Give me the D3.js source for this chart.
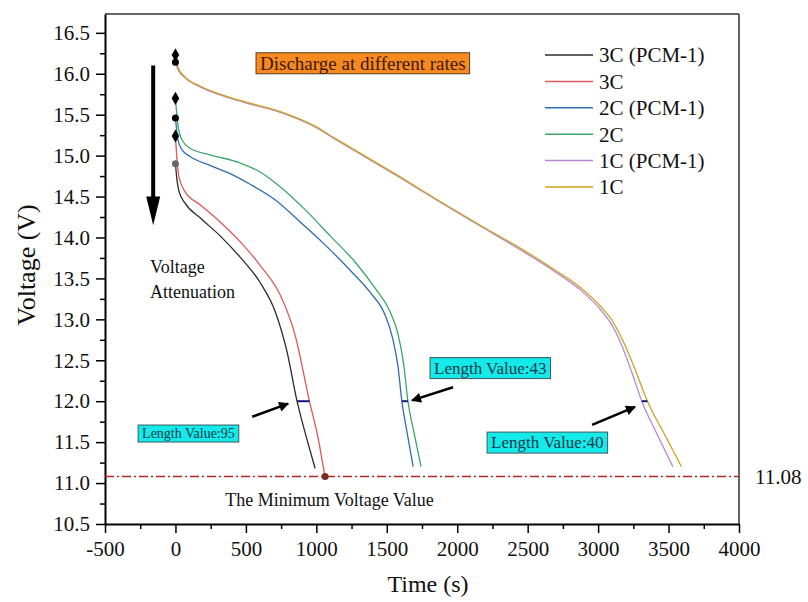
<!DOCTYPE html>
<meta charset="utf-8">
<script src="https://d3js.org/d3.v7.min.js"></script>
<style>
  body { margin: 0; background: #fff; font-family: 'Liberation Serif', 'Times New Roman', serif; }
  text { font-family: 'Liberation Serif', 'Times New Roman', serif; }
</style>
<div id="chart"></div>
<script>
// discharge curves, [time (s), voltage (V)]
var c3cPcm = [[0,14.90],[11,14.70],[26,14.56],[68,14.42],[175,14.24],[317,14.02],[459,13.76],[601,13.45],[707,13.10],[790,12.62],[863,12.0],[934,11.53],[991,11.18]];
var c3c    = [[0,15.24],[11,14.95],[26,14.73],[68,14.56],[175,14.40],[317,14.19],[459,13.95],[601,13.66],[743,13.30],[849,12.81],[951,12.0],[1015,11.53],[1043,11.26],[1062,11.08]];
var c2cPcm = [[0,15.46],[18,15.19],[47,15.07],[104,14.99],[246,14.88],[388,14.78],[530,14.65],[707,14.46],[885,14.19],[1062,13.91],[1240,13.60],[1382,13.33],[1489,13.05],[1540,12.78],[1580,12.42],[1607,12.0],[1644,11.62],[1687,11.20]];
var c2c    = [[0,15.70],[18,15.37],[47,15.19],[104,15.09],[246,15.01],[459,14.91],[601,14.80],[743,14.62],[920,14.34],[1098,14.02],[1275,13.70],[1417,13.38],[1524,13.09],[1580,12.82],[1620,12.45],[1650,12.0],[1693,11.62],[1743,11.20]];
var c1cPcm = [[0,16.14],[18,16.05],[68,15.95],[175,15.84],[352,15.72],[530,15.63],[707,15.55],[849,15.46],[991,15.35],[1133,15.20],[1311,15.02],[1595,14.73],[1879,14.43],[2163,14.14],[2447,13.85],[2696,13.58],[2874,13.36],[3016,13.12],[3102,12.92],[3173,12.66],[3244,12.33],[3310,12.0],[3418,11.60],[3530,11.20]];
var c1c    = [[0,16.23],[18,16.08],[68,15.96],[175,15.85],[352,15.73],[530,15.64],[707,15.56],[849,15.47],[991,15.36],[1133,15.21],[1311,15.03],[1595,14.74],[1879,14.44],[2163,14.15],[2447,13.87],[2696,13.60],[2874,13.39],[3016,13.16],[3102,12.98],[3173,12.75],[3260,12.40],[3350,12.0],[3470,11.60],[3592,11.20]];

var seriesNames  = ["3C (PCM-1)", "3C", "2C (PCM-1)", "2C", "1C (PCM-1)", "1C"];
var seriesColors = ["#2b2b2b", "#e0575b", "#2f6db0", "#3aa66a", "#b68ad6", "#cfa21f"];
var seriesData   = [c3cPcm, c3c, c2cPcm, c2c, c1cPcm, c1c];

// starting points and the minimum point
var diamondStarts = [16.23, 15.70, 15.24];
var circleStarts  = [16.14, 15.46];
var greyStart     = 14.90;
var minVoltage    = 11.08;
var minPointTime  = 1062;

// length at 12 V : [t left, t right, label]
var lengthSegs = [[863, 951, "Length Value:95"], [1607, 1650, "Length Value:43"], [3310, 3350, "Length Value:40"]];

var xTicks = [-500, 0, 500, 1000, 1500, 2000, 2500, 3000, 3500, 4000];
var yTicks = [10.5, 11.0, 11.5, 12.0, 12.5, 13.0, 13.5, 14.0, 14.5, 15.0, 15.5, 16.0, 16.5];

var margin = {top: 14, right: 69, bottom: 78, left: 105},
    width = 808 - margin.left - margin.right,
    height = 602 - margin.top - margin.bottom;

var svg = d3.select("#chart").append("svg")
    .attr("width", 808).attr("height", 602)
  .append("g")
    .attr("transform", "translate(" + margin.left + "," + margin.top + ")");

var x = d3.scaleLinear().domain([-500, 4000]).range([0, width]);
var y = d3.scaleLinear().domain([10.5, 16.73]).range([height, 0]);

// arrow marker
var defs = svg.append("defs");
defs.append("marker").attr("id", "arr")
    .attr("viewBox", "0 0 10 10").attr("refX", 9).attr("refY", 5)
    .attr("markerWidth", 5.5).attr("markerHeight", 4).attr("orient", "auto")
    .attr("markerUnits", "strokeWidth")
  .append("path").attr("d", "M0,0L10,5L0,10z").attr("fill", "#000");

// frame top/right
svg.append("line").attr("x1", 0).attr("x2", width).attr("y1", 0).attr("y2", 0)
   .attr("stroke", "#333").attr("stroke-width", 1.5);
svg.append("line").attr("x1", width).attr("x2", width).attr("y1", 0).attr("y2", height)
   .attr("stroke", "#333").attr("stroke-width", 1.5);

// minor ticks
var xMinor = d3.range(-250, 4000, 500);
var yMinor = d3.range(10.75, 16.75, 0.5);
svg.append("g").attr("transform", "translate(0," + height + ")")
   .call(d3.axisBottom(x).tickValues(xMinor).tickSize(5).tickFormat("").tickSizeOuter(0))
   .call(function(g) { g.select(".domain").remove(); g.selectAll("line").attr("stroke-width", 1.5); });
svg.append("g")
   .call(d3.axisLeft(y).tickValues(yMinor).tickSize(5).tickFormat("").tickSizeOuter(0))
   .call(function(g) { g.select(".domain").remove(); g.selectAll("line").attr("stroke-width", 1.5); });

// axes
var xAxis = svg.append("g").attr("transform", "translate(0," + height + ")")
   .call(d3.axisBottom(x).tickValues(xTicks).tickSize(9).tickPadding(8).tickSizeOuter(0)
         .tickFormat(function(d) { return String(d); }));
var yAxis = svg.append("g")
   .call(d3.axisLeft(y).tickValues(yTicks).tickSize(9).tickPadding(6).tickSizeOuter(0).tickFormat(d3.format(".1f")));
[xAxis, yAxis].forEach(function(g) {
  g.select(".domain").attr("stroke-width", 2);
  g.selectAll("line").attr("stroke-width", 1.5);
  g.selectAll("text").style("font-size", "21px").style("font-family", "'Liberation Serif', serif").attr("fill", "#111");
});

// axis titles
svg.append("text").attr("x", 428 - margin.left).attr("y", 592 - margin.top)
   .attr("text-anchor", "middle").style("font-size", "24px").attr("fill", "#111").text("Time (s)");
svg.append("text").attr("transform", "translate(" + (35 - margin.left) + "," + (height / 2 - 4) + ") rotate(-90)")
   .attr("text-anchor", "middle").style("font-size", "26px").attr("fill", "#111").text("Voltage (V)");

// minimum voltage line
svg.append("line").attr("x1", 0).attr("x2", width)
   .attr("y1", y(minVoltage)).attr("y2", y(minVoltage))
   .attr("stroke", "#b3262a").attr("stroke-width", 1.3).attr("stroke-dasharray", "9,3,2,3");
svg.append("text").attr("x", width + 16).attr("y", y(minVoltage)).attr("dy", "0.35em")
   .style("font-size", "21px").attr("fill", "#111").text(minVoltage.toFixed(2));
svg.append("text").attr("x", x(354)).attr("y", y(10.72))
   .style("font-size", "18px").attr("fill", "#111").text("The Minimum Voltage Value");

// curves
var line = d3.line().x(function(d) { return x(d[0]); }).y(function(d) { return y(d[1]); })
    .curve(d3.curveMonotoneX);
svg.selectAll(".curve").data(seriesData).enter().append("path")
   .attr("class", "curve")
   .attr("fill", "none")
   .attr("stroke", function(d, i) { return seriesColors[i]; })
   .attr("stroke-width", 1.3)
   .attr("d", line);

// start markers
svg.selectAll(".dia").data(diamondStarts).enter().append("path")
   .attr("d", d3.symbol(d3.symbolDiamond).size(50))
   .attr("transform", function(d) { return "translate(" + x(0) + "," + y(d) + ")"; })
   .attr("fill", "#000");
svg.selectAll(".cir").data(circleStarts).enter().append("circle")
   .attr("cx", x(0)).attr("cy", function(d) { return y(d); }).attr("r", 3.5).attr("fill", "#000");
svg.append("circle").attr("cx", x(0)).attr("cy", y(greyStart)).attr("r", 3.5).attr("fill", "#666");
svg.append("circle").attr("cx", x(minPointTime)).attr("cy", y(minVoltage)).attr("r", 3.5).attr("fill", "#7a2a22");

// length segments at 12 V
svg.selectAll(".seg").data(lengthSegs).enter().append("line")
   .attr("x1", function(d) { return x(d[0]); }).attr("x2", function(d) { return x(d[1]); })
   .attr("y1", y(12)).attr("y2", y(12))
   .attr("stroke", "#141a7a").attr("stroke-width", 2);

// label boxes: [t left, v center, font size]
var boxPos = [[-265, 11.61, 14], [1807, 12.41, 17], [2212, 11.50, 17]];
lengthSegs.forEach(function(s, i) {
  var p = boxPos[i];
  var g = svg.append("g");
  var t = g.append("text").attr("x", x(p[0]) + 4).attr("y", y(p[1])).attr("dy", "0.35em")
     .style("font-size", p[2] + "px").attr("fill", "#0d3b4a").text(s[2]);
  var bb = t.node().getBBox();
  g.insert("rect", "text").attr("x", bb.x - 4).attr("y", bb.y - 1)
     .attr("width", bb.width + 8).attr("height", bb.height + 2)
     .attr("fill", "#14eaea").attr("stroke", "#3a5a5a").attr("stroke-width", 1);
});

// pointer arrows: [t0, v0, t1, v1]
var pointers = [[545, 11.81, 800, 11.97], [1970, 12.17, 1679, 12.01], [2957, 11.71, 3262, 11.93]];
svg.selectAll(".ptr").data(pointers).enter().append("line")
   .attr("x1", function(d) { return x(d[0]); }).attr("y1", function(d) { return y(d[1]); })
   .attr("x2", function(d) { return x(d[2]); }).attr("y2", function(d) { return y(d[3]); })
   .attr("stroke", "#000").attr("stroke-width", 2.5).attr("marker-end", "url(#arr)");

// voltage attenuation arrow
svg.append("line").attr("x1", x(-158)).attr("x2", x(-158))
   .attr("y1", y(16.1)).attr("y2", y(14.3))
   .attr("stroke", "#000").attr("stroke-width", 4);
svg.append("path")
   .attr("d", "M" + (x(-158) - 7) + "," + y(14.5) + "L" + (x(-158) + 7) + "," + y(14.5) + "L" + x(-158) + "," + y(14.15) + "Z")
   .attr("fill", "#000");
svg.append("text").attr("x", x(-180)).attr("y", y(13.57)).style("font-size", "18px").attr("fill", "#111").text("Voltage");
svg.append("text").attr("x", x(-180)).attr("y", y(13.26)).style("font-size", "18px").attr("fill", "#111").text("Attenuation");

// title box
var tg = svg.append("g");
var tt = tg.append("text").attr("x", x(572) + 4).attr("y", y(16.13)).attr("dy", "0.35em")
   .style("font-size", "19px").attr("fill", "#3a1a08").text("Discharge at different rates");
var tb = tt.node().getBBox();
tg.insert("rect", "text").attr("x", tb.x - 4).attr("y", tb.y)
   .attr("width", tb.width + 8).attr("height", tb.height)
   .attr("fill", "#f7891f").attr("stroke", "#5a3a1a").attr("stroke-width", 1);

// legend
var legend = svg.append("g").attr("transform", "translate(" + (545 - margin.left) + "," + (55 - margin.top) + ")");
seriesNames.forEach(function(n, i) {
  var row = legend.append("g").attr("transform", "translate(0," + (i * 26.4) + ")");
  row.append("line").attr("x1", 0).attr("x2", 48).attr("stroke", seriesColors[i]).attr("stroke-width", 1.5);
  row.append("text").attr("x", 54).attr("dy", "0.35em").style("font-size", "21px").attr("fill", "#111").text(n);
});
</script>
